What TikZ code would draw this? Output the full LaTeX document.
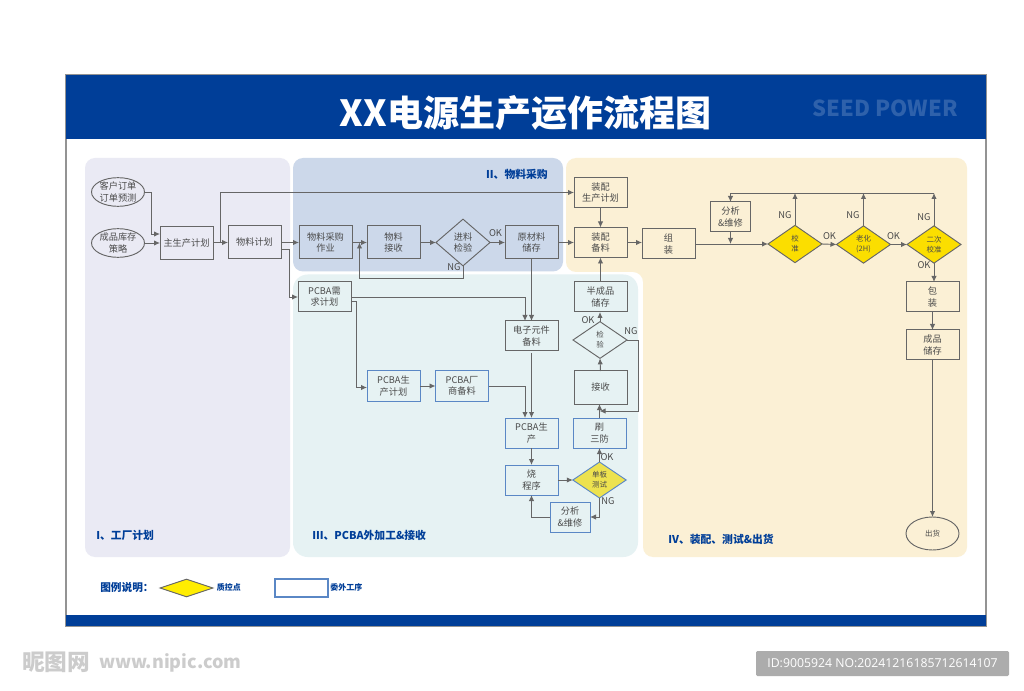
\documentclass[tikz,border=0pt]{standalone}
\usepackage{fontspec}
\setmainfont{Noto Sans CJK SC}
\newfontfamily\idfont{Open Sans}
\usetikzlibrary{shapes.geometric,arrows.meta,calc}
\definecolor{hblue}{HTML}{003E98}
\definecolor{lblue}{HTML}{5A87C5}
\definecolor{lne}{HTML}{666666}
\definecolor{txt}{HTML}{4A4A4A}
\definecolor{pI}{HTML}{EAEAF4}
\definecolor{pII}{HTML}{CCD8EA}
\definecolor{pIII}{HTML}{E6F2F3}
\definecolor{pIV}{HTML}{FBF0D5}
\definecolor{ydia}{HTML}{FBDE00}
\definecolor{sdia}{HTML}{EDE24F}
\newcommand\mytf{\fontsize{6.9}{8.5}\selectfont}
\newcommand\mysf{\fontsize{5.6}{7.6}\selectfont}
\tikzset{
 boxb/.style={draw=lne,line width=.75pt,inner sep=0,outer sep=0,align=center,text=txt,font=\mytf,minimum width=39.75pt},
 tall/.style={boxb,minimum height=24.75pt},
 short/.style={boxb,minimum height=22.5pt},
 blu/.style={short,draw=lblue},
 ell/.style={ellipse,draw=lne,line width=.7pt,inner sep=0,outer sep=0,align=center,text=txt,font=\mytf,minimum width=39.75pt,minimum height=21.5pt},
 dia/.style={diamond,draw=lne,line width=.7pt,inner sep=0,outer sep=0,align=center,text=txt,font=\mytf,minimum width=40.5pt,minimum height=35pt,aspect=1.15},
 ydi/.style={diamond,draw=lne,fill=ydia,line width=.7pt,inner sep=0,outer sep=0,align=center,text=txt,font=\mysf,minimum width=40.5pt,minimum height=28pt,aspect=1.42},
 arr/.style={draw=lne,line width=.7pt,-{Latex[length=4.5pt,width=4pt]}},
 lab/.style={text=txt,font=\fontsize{7}{8}\selectfont,inner sep=0},
 sec/.style={text=hblue,font=\fontsize{8.1}{10}\selectfont\bfseries,inner sep=0},
 leg/.style={text=hblue,font=\fontsize{6}{8}\selectfont\bfseries,inner sep=0},
}
\begin{document}
\begin{tikzpicture}[x=.75pt,y=-.75pt]
\useasboundingbox (0,0) rectangle (1024,691);
% frame
\fill[white] (0,0) rectangle (1024,691);
\draw[draw=gray!85,line width=1pt] (66,74.5) rectangle (986,626);
\fill[hblue] (66,75) rectangle (986,139);
\fill[hblue] (66,615) rectangle (986,626);
% panels
\fill[pI,rounded corners=7.5pt] (85,158) rectangle (290,557);
\fill[pIV,rounded corners=7.5pt] (566,272)--(566,158)--(967,158)--(967,557)--(643,557)--(643,272)--cycle;
\fill[pII,rounded corners=7.5pt] (293,158) rectangle (563,271.5);
\fill[pIII,rounded corners=11pt] (293,274.5) rectangle (638,557);
% title
\node[text=white,font=\fontsize{27}{30}\selectfont\bfseries,inner sep=0] (title) at (525.5,113) {XX电源生产运作流程图};
\node[text=hblue!82!white,font=\fontsize{16.5}{18}\selectfont\bfseries,inner sep=0] (seed) at (885,108) {SEED POWER};
% section labels
\node[sec,anchor=east] (s2) at (548,174.5) {II、物料采购};
\node[sec,anchor=west] (s1) at (96,535) {I、工厂计划};
\node[sec,anchor=west] (s3) at (312,535) {III、PCBA外加工\&接收};
\node[sec,anchor=west] (s4) at (668,539.5) {IV、装配、测试\&出货};
% nodes
\node[ell] (kh) at (118,192) {客户订单\\订单预测};
\node[ell] (cp) at (118,243) {成品库存\\策略};
\node[tall] (zs) at (186.5,243.5) {主生产计划};
\node[tall] (wl) at (254.5,242.5) {物料计划};
\node[tall,fill=pII] (cg) at (325.5,242.5) {物料采购\\作业};
\node[tall,fill=pII] (js) at (393.5,242.5) {物料\\接收};
\node[dia] (jy) at (463,242.5) {进料\\检验};
\node[tall,fill=pII] (yc) at (531.5,242.5) {原材料\\储存};
\node[short] (xq) at (324.5,297) {PCBA需\\求计划};
\node[short] (zp) at (600.5,192.5) {装配\\生产计划};
\node[short] (zb) at (600.5,242.5) {装配\\备料};
\node[short] (bc) at (600.5,297) {半成品\\储存};
\node[short] (dz) at (531.5,336) {电子元件\\备料};
\node[dia,minimum height=27.5pt,minimum width=40.5pt,aspect=1.5,font=\mysf] (jc) at (600,340) {检\\验};
\node[tall] (jx) at (600.5,387.5) {接收};
\node[blu] (pj) at (393.5,386) {PCBA生\\产计划};
\node[blu] (pc) at (462,386) {PCBA厂\\商备料};
\node[blu] (ps) at (531.5,433) {PCBA生\\产};
\node[blu] (sfa) at (599.5,433) {刷\\三防};
\node[blu] (sc) at (531.5,480) {烧\\程序};
\node[ydi,draw=lblue,fill=sdia,minimum height=27pt,minimum width=40pt,aspect=1.47] (db) at (599.5,480) {单板\\测试};
\node[blu,minimum width=30pt] (fx) at (570,517) {分析\\\&维修};
\node[short] (zz) at (668.5,244) {组\\装};
\node[short,minimum width=29.5pt] (fw) at (730.5,217) {分析\\\&维修};
\node[ydi] (jz) at (795,244) {校\\准};
\node[ydi] (lh) at (863.5,244.5) {老化\\(2H)};
\node[ydi] (ec) at (934,244.5) {二次\\校准};
\node[short] (bz) at (932.5,297) {包\\装};
\node[short] (cc) at (932.5,345) {成品\\储存};
\node[ell,minimum height=24.75pt,font=\mysf] (ch) at (932.5,533.5) {出货};
% helper coordinates
\coordinate (j1) at ($(zs.east |- wl.west)!.5!(wl.west)$);
\coordinate (j2) at ($(cg.east)!.5!(js.west)$);
\coordinate (j3) at (730.5,244);
\coordinate (t0) at (795,193);
\coordinate (t1) at (863.5,193);
\coordinate (t2) at (934,193);
\coordinate (r1) at (599.5,411);
% connectors
\draw[arr] (kh.east) -- ++(7,0) |- ($(zs.west)+(0,-9.5)$);
\draw[arr] (cp.east) -- (cp.east -| zs.west);
\draw[arr] (zs.east |- wl.west) -- (wl.west);
\draw[arr] (j1) |- (zp.west);
\draw[arr] (wl.east) -- (cg.west);
\draw[arr] ($(wl.east)+(0,6.5)$) -- ++(8.5,0) |- (xq.west);
\draw[arr] (cg.east) -- (js.west);
\draw[arr] (js.east) -- (jy.west);
\draw[arr] (jy.south) -- ++(0,13) -| (j2);
\draw[arr] (jy.east) -- (yc.west);
\draw[arr] (yc.east) -- (zb.west);
\draw[arr] (yc.south) -- (dz.north);
\draw[arr] (xq.east) -| ($(dz.north)+(-6.5,0)$);
\draw[arr] ($(xq.east)+(0,4)$) -- ++(5.5,0) |- (pj.west |- 0,387.5);
\draw[arr] (pj.east) -- (pc.west);
\draw[arr] (pc.east) -| ($(ps.north)+(-6.5,0)$);
\draw[arr] ($(dz.south)+(0,2)$) -- (ps.north);
\draw[arr] (ps.south) -- (sc.north);
\draw[arr] (sc.east) -- (db.west);
\draw[arr] (db.north) -- (sfa.south);
\draw[arr] (db.south) |- (fx.east);
\draw[arr] (fx.west) -| (sc.south);
\draw[arr] (sfa.north) -- (sfa.north |- jx.south);
\draw[arr] (jx.north) -- (jc.south);
\draw[arr] (jc.east) -- ++(11.5,0) |- (r1);
\draw[arr] (jc.north) -- (jc.north |- bc.south);
\draw[arr] (bc.north) -- (bc.north |- zb.south);
\draw[arr] (zp.south) -- (zb.north);
\draw[arr] (zb.east) -- (zb.east -| zz.west);
\draw[arr] (zz.east) -- (jz.west);
\draw[arr] (fw.south) -- (j3);
\draw[arr] (jz.north) -- (t0);
\draw[arr] (lh.north) -- (t1);
\draw[arr] (ec.north) -- (t2);
\draw[arr] (t2) -| (fw.north);
\draw[arr] (jz.east) -- (lh.west);
\draw[arr] (lh.east) -- (ec.west);
\draw[arr] (ec.south) -- (ec.south |- bz.north);
\draw[arr] (bz.south) -- (cc.north);
\draw[arr] (cc.south) -- (ch.north);
% labels
\node[lab] (n1) at (495.5,233) {OK};
\node[lab] (n2) at (454,267) {NG};
\node[lab] (n3) at (588,320) {OK};
\node[lab] (n4) at (631,331) {NG};
\node[lab] (n5) at (607,457) {OK};
\node[lab] (n6) at (608,501) {NG};
\node[lab] (n7) at (785,215) {NG};
\node[lab] (n8) at (853,215) {NG};
\node[lab] (n9) at (924,217.5) {NG};
\node[lab] (n10) at (829.5,236) {OK};
\node[lab] (n11) at (893.5,236.5) {OK};
\node[lab] (n12) at (924,265.5) {OK};
% legend
\node[sec,anchor=west,font=\fontsize{8}{10}\selectfont\bfseries] (lg) at (100,587) {图例说明：};
\node[diamond,draw=lne,fill=yellow!95!orange,line width=.7pt,inner sep=0,minimum width=40pt,minimum height=13.5pt,aspect=3] (ld) at (186.5,588) {};
\node[leg,anchor=west] (lq) at (216.5,587.5) {质控点};
\node[draw=lblue,fill=white,line width=.8pt,inner sep=0,minimum width=39.75pt,minimum height=13.5pt] (lr) at (301.5,588) {};
\node[leg,anchor=west] (lw) at (330,587.5) {委外工序};
% watermark
\node[text=gray!40,font=\fontsize{17}{19}\selectfont\bfseries,inner sep=0,anchor=west] (w1) at (22,662) {昵图网};
\node[text=gray!40,font=\fontsize{13.5}{16}\selectfont\bfseries,inner sep=0,anchor=west] (w2) at (99,663) {www.nipic.com};
\node[fill=gray!65,rounded corners=1pt,minimum width=189.75pt,minimum height=18.75pt,inner sep=0,text=white,font=\idfont\fontsize{9.2}{12}\selectfont] (idb) at (882.5,663.5) {ID:9005924 NO:20241216185712614107};
\end{tikzpicture}
\end{document}
